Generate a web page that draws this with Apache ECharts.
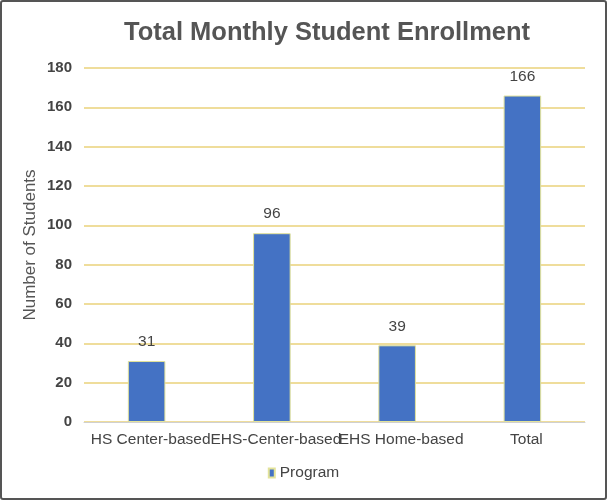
<!DOCTYPE html>
<html><head><meta charset="utf-8">
<script src="https://cdn.jsdelivr.net/npm/echarts@6/dist/echarts.min.js"></script>
<style>
html,body{margin:0;padding:0;background:#fff;}
#frame{position:absolute;left:0;top:0;width:603px;height:496px;border:2px solid #555;border-radius:3px;background:#fff;}
#c{width:603px;height:496px;}
</style></head>
<body>
<div id="frame"><div id="c"></div></div>
<script>
const categories = ['HS Center-based', 'EHS-Center-based', 'EHS Home-based', 'Total'];
const programValues = [31, 96, 39, 166];
const yTicks = [0, 20, 40, 60, 80, 100, 120, 140, 160, 180];

const chart = echarts.init(document.getElementById('c'));
chart.setOption({
  animation: false,
  title: {
    text: 'Total Monthly Student Enrollment',
    left: 117, top: 13,
    textStyle: { fontFamily: 'Liberation Sans', fontSize: 25.5, fontWeight: 'bold', color: '#555' }
  },
  grid: { left: 82, right: 20, top: 66, bottom: 76 },
  legend: {
    bottom: 12, left: 'center',
    itemWidth: 6, itemHeight: 9, itemGap: 4,
    icon: 'rect',
    textStyle: { fontFamily: 'Liberation Sans', fontSize: 15.5, color: '#444' },
    data: ['Program']
  },
  xAxis: {
    type: 'category', data: categories,
    axisLine: { lineStyle: { color: '#d0d0d0', width: 1 } },
    axisTick: { show: false },
    axisLabel: { interval: 0, hideOverlap: false, fontFamily: 'Liberation Sans', fontSize: 15.5, color: '#444', margin: 10, padding: [0, 0, 0, 8] }
  },
  yAxis: {
    type: 'value', min: yTicks[0], max: yTicks[yTicks.length - 1], interval: 20,
    name: 'Number of Students', nameLocation: 'middle', nameGap: 45, nameMoveOverlap: false,
    nameTextStyle: { fontFamily: 'Liberation Sans', fontSize: 17, color: '#555' },
    axisLine: { show: false }, axisTick: { show: false },
    axisLabel: { fontFamily: 'Liberation Sans', fontSize: 15, fontWeight: 'bold', color: '#444', margin: 12 },
    splitLine: { lineStyle: { color: '#ead27a', width: 1.5 } }
  },
  series: [{
    name: 'Program', type: 'bar', data: programValues, barWidth: '30%',
    itemStyle: { color: '#4472c4', borderColor: '#e3e39a', borderWidth: 1 },
    label: { show: true, position: 'top', distance: 11, fontFamily: 'Liberation Sans', fontSize: 15.5, color: '#444' }
  }]
});
</script>
</body></html>
